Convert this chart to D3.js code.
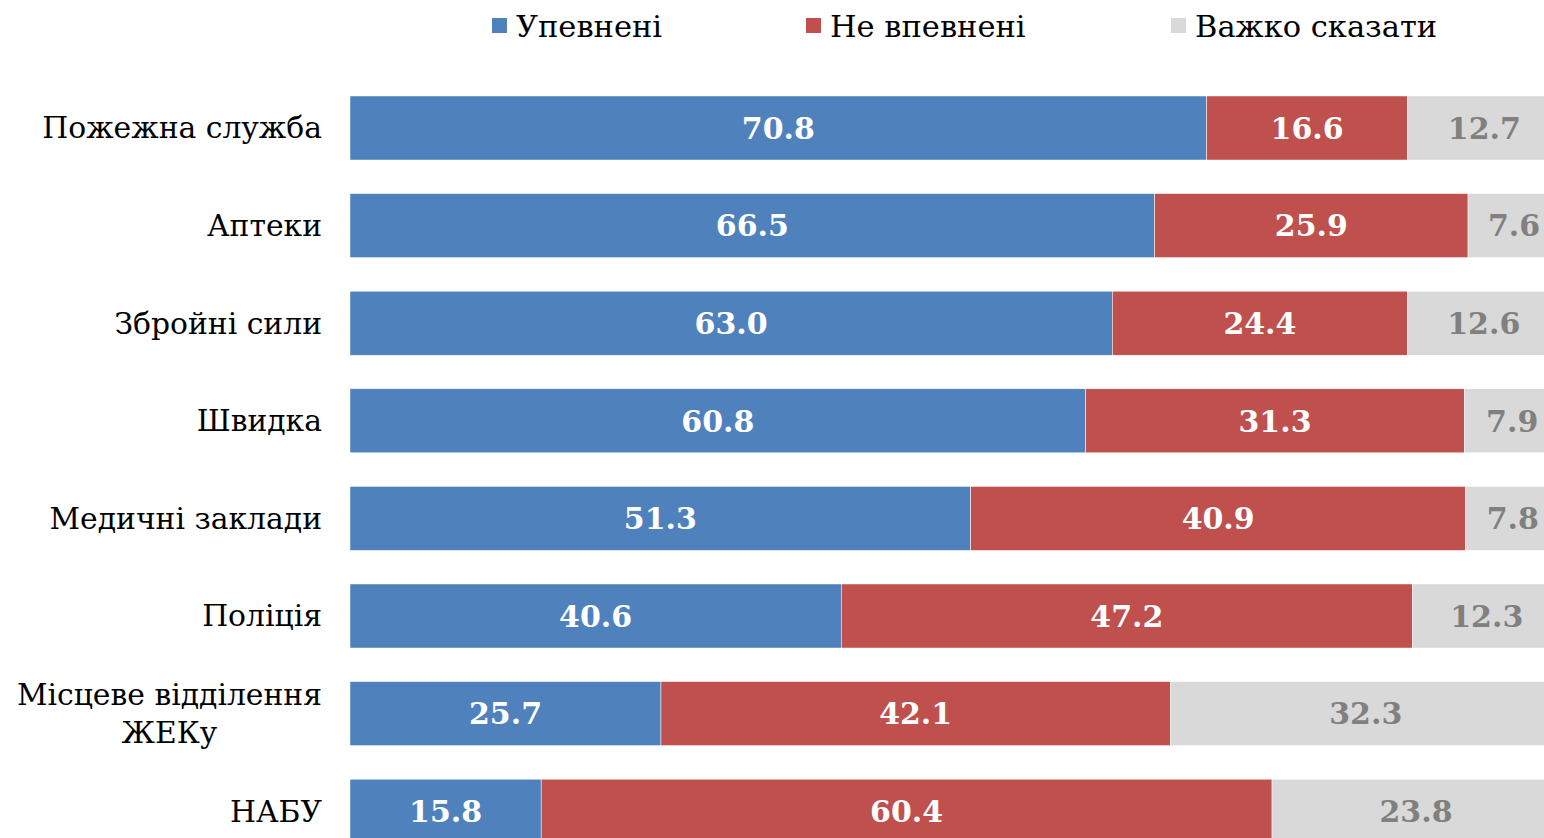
<!DOCTYPE html>
<html>
<head>
<meta charset="utf-8">
<script src="https://cdn.jsdelivr.net/npm/d3@7"></script>
<style>
  html, body { margin: 0; padding: 0; background: #fff; overflow: hidden; }
  svg { display: block; }
</style>
</head>
<body>
<div id="chart"></div>
<script>
// data
const categories = ["Пожежна служба", "Аптеки", "Збройні сили", "Швидка", "Медичні заклади", "Поліція", "Місцеве відділення\nЖЕКу", "НАБУ"]
const confident = [70.8, 66.5, 63.0, 60.8, 51.3, 40.6, 25.7, 15.8]
const notConfident = [16.6, 25.9, 24.4, 31.3, 40.9, 47.2, 42.1, 60.4]
const hardToSay = [12.7, 7.6, 12.6, 7.9, 7.8, 12.3, 32.3, 23.8]
const seriesNames = ["Упевнені", "Не впевнені", "Важко сказати"]

const colors = ["#4F81BD", "#C0504D", "#D9D9D9"]
const labelColors = ["#ffffff", "#ffffff", "#808080"]

const width = 1544, height = 838
const serif = "'DejaVu Serif', 'Liberation Serif', serif"

const svg = d3.select("#chart").append("svg")
	.attr("width", width)
	.attr("height", height)

const x = d3.scaleLinear().domain([0, 100]).range([350, 1560])
const step = 97.6
const y = d3.scaleBand()
	.domain(categories)
	.range([79.2, 79.2 + step * categories.length])
	.paddingInner(0.344)
	.paddingOuter(0.172)

// build stacked rows
const rows = categories.map((c, i) => ({cat: c, v: [confident[i], notConfident[i], hardToSay[i]]}))
const stack = d3.stack().keys([0, 1, 2]).value((d, k) => d.v[k])
const stacked = stack(rows)

stacked.forEach((layer, k) => {
	const g = svg.append("g")
	g.selectAll("rect").data(layer).enter().append("rect")
		.attr("x", d => x(d[0]))
		.attr("y", d => y(d.data.cat))
		.attr("width", d => x(d[1]) - x(d[0]))
		.attr("height", y.bandwidth())
		.attr("fill", colors[k])
		.attr("stroke", "#ffffff")
		.attr("stroke-width", 0.5)

	g.selectAll("text").data(layer).enter().append("text")
		.attr("x", d => (x(d[0]) + x(d[1])) / 2)
		.attr("y", d => y(d.data.cat) + y.bandwidth() / 2)
		.attr("dy", "0.36em")
		.attr("text-anchor", "middle")
		.attr("fill", labelColors[k])
		.style("font-family", serif)
		.style("font-weight", "bold")
		.style("font-size", "30px")
		.text(d => d3.format(".1f")(d[1] - d[0]))
})

// category labels, lines centered on each other, block right aligned
const labelRight = 322
categories.forEach(c => {
	const lines = c.split("\n")
	const cy = y(c) + y.bandwidth() / 2
	const lineH = 38
	const t = svg.append("g")
	const texts = lines.map((ln, j) => t.append("text")
		.attr("y", cy + (j - (lines.length - 1) / 2) * lineH)
		.attr("dy", "0.35em")
		.attr("text-anchor", "middle")
		.attr("fill", "#000")
		.style("font-family", serif)
		.style("font-size", "29.8px")
		.text(ln))
	const maxW = d3.max(texts, s => s.node().getComputedTextLength())
	texts.forEach(s => s.attr("x", labelRight - maxW / 2))
})

// legend
const legendX = [492, 806, 1171]
seriesNames.forEach((n, k) => {
	svg.append("rect")
		.attr("x", legendX[k])
		.attr("y", 18)
		.attr("width", 15)
		.attr("height", 15)
		.attr("fill", colors[k])
	svg.append("text")
		.attr("x", legendX[k] + 24)
		.attr("y", 26)
		.attr("dy", "0.35em")
		.attr("fill", "#000")
		.style("font-family", serif)
		.style("font-size", "30.5px")
		.text(n)
})
</script>
</body>
</html>
